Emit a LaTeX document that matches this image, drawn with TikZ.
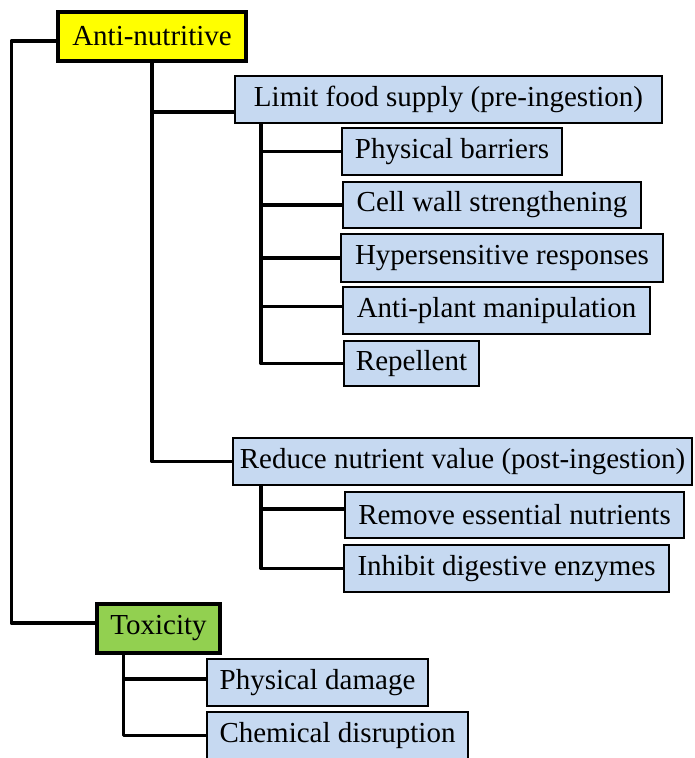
\documentclass[tikz,border=0pt]{standalone}
\usepackage{fontspec}
\setmainfont{Liberation Serif}
\definecolor{boxblue}{HTML}{C6D9F1}
\definecolor{topyellow}{HTML}{FFFF00}
\definecolor{toxgreen}{HTML}{92D050}
\tikzset{
  conn/.style={line width=3.2pt, line cap=round, line join=round},
  bluebox/.style={draw=black, line width=2pt, fill=boxblue, inner sep=0pt, font=\fontsize{29}{34}\selectfont},
  headbox/.style={draw=black, line width=3.8pt, inner sep=0pt, font=\fontsize{29}{34}\selectfont},
}
\begin{document}
\begin{tikzpicture}[x=1pt,y=-1pt]
\clip (0,0) rectangle (694,758);
\fill[white] (0,0) rectangle (694,758);
% top-level
\node[headbox, fill=topyellow, minimum width=188pt, minimum height=49pt] (anti) at (152,36.5) {Anti-nutritive};
\node[headbox, fill=toxgreen, minimum width=123pt, minimum height=49pt] (tox) at (158.5,628.5) {Toxicity};
% second level
\node[bluebox, minimum width=427pt, minimum height=47pt] (lim) at (448.5,99.5) {Limit food supply (pre-ingestion)};
\node[bluebox, minimum width=459pt, minimum height=47pt] (red) at (462.5,461.5) {Reduce nutrient value (post-ingestion)};
% limit children
\node[bluebox, minimum width=220pt, minimum height=47pt] (pb) at (452,151.5) {Physical barriers};
\node[bluebox, minimum width=298pt, minimum height=46pt] (cw) at (492,205) {Cell wall strengthening};
\node[bluebox, minimum width=322pt, minimum height=48pt] (hr) at (502,258) {Hypersensitive responses};
\node[bluebox, minimum width=307pt, minimum height=47pt] (ap) at (496.5,310.5) {Anti-plant manipulation};
\node[bluebox, minimum width=135pt, minimum height=45pt] (rep) at (411.5,363.5) {Repellent};
% reduce children
\node[bluebox, minimum width=339pt, minimum height=46pt] (rem) at (514.5,515) {Remove essential nutrients};
\node[bluebox, minimum width=325pt, minimum height=47pt] (inh) at (506.5,568.5) {Inhibit digestive enzymes};
% toxicity children
\node[bluebox, minimum width=221pt, minimum height=47pt] (pd) at (317.5,682.5) {Physical damage};
\node[bluebox, minimum width=261pt, minimum height=47pt] (cd) at (337.5,735.5) {Chemical disruption};
% connectors
\draw[conn] ([yshift=-4.5pt]anti.west) -- ++(-45,0) |- ([yshift=5.5pt]tox.west);
\draw[conn] (anti.south) |- ([yshift=-12.5pt]lim.west);
\draw[conn] (anti.south) |- (red.west);
\draw[conn] ([xshift=27pt]lim.south west) |- (pb.west);
\draw[conn] ([xshift=27pt]lim.south west) |- (cw.west);
\draw[conn] ([xshift=27pt]lim.south west) |- (hr.west);
\draw[conn] ([xshift=27pt]lim.south west) |- ([yshift=4pt]ap.west);
\draw[conn] ([xshift=27pt]lim.south west) |- (rep.west);
\draw[conn] ([xshift=29pt]red.south west) |- ([yshift=6pt]rem.west);
\draw[conn] ([xshift=29pt]red.south west) |- (inh.west);
\draw[conn] ([xshift=28pt]tox.south west) |- ([yshift=3.5pt]pd.west);
\draw[conn] ([xshift=28pt]tox.south west) |- (cd.west);
\end{tikzpicture}
\end{document}
